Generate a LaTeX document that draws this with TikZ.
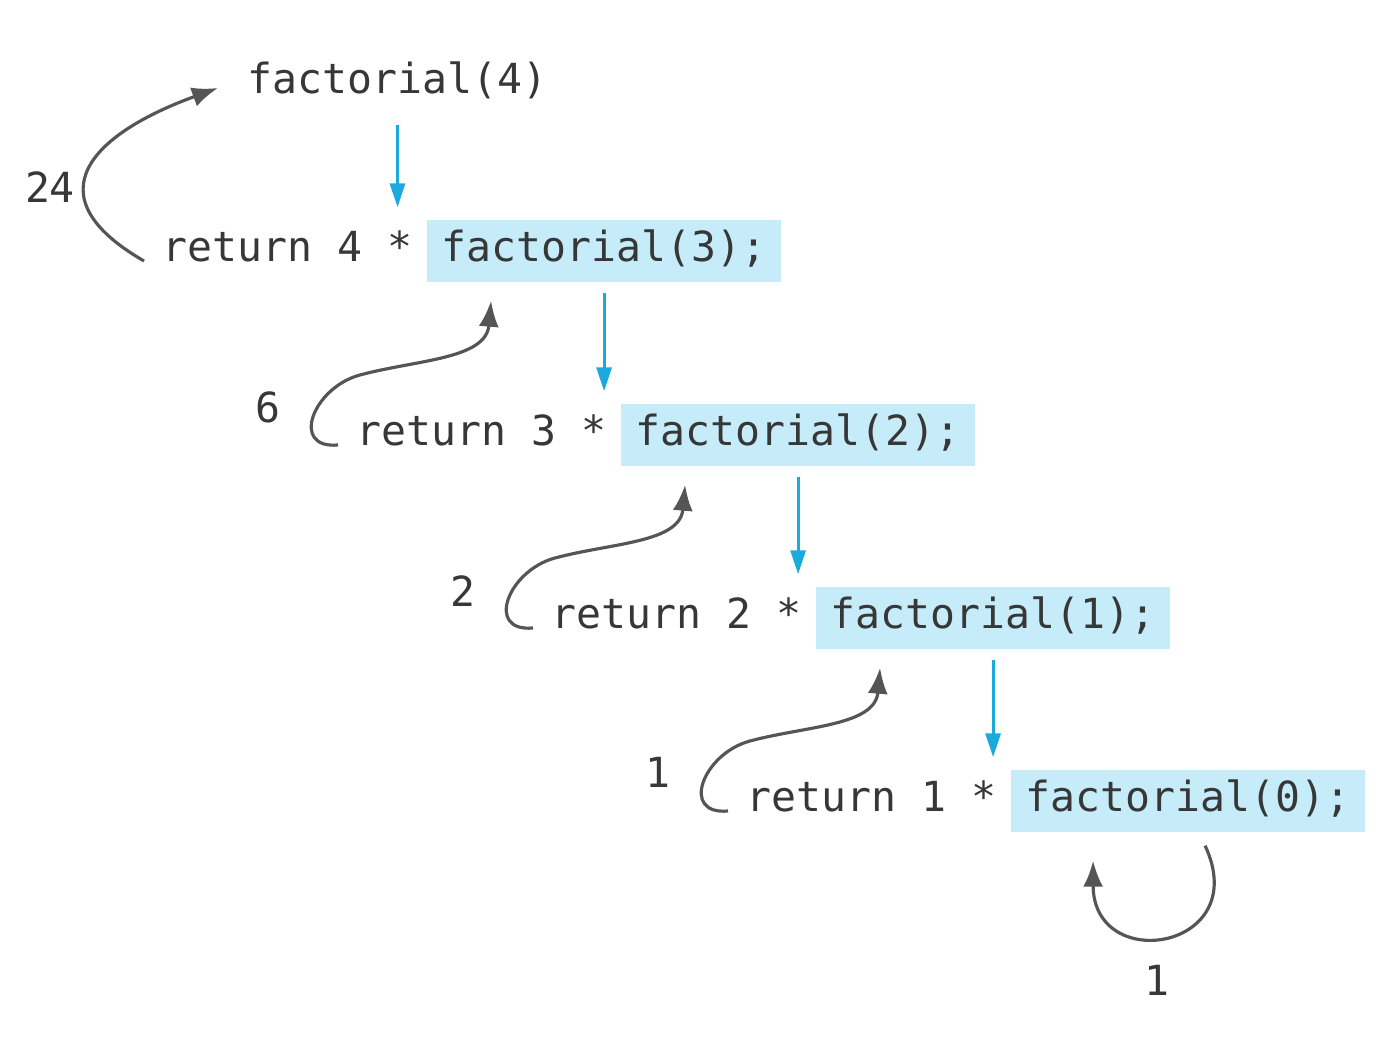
\documentclass[tikz,border=0pt]{standalone}
\usepackage{fontspec}
\newfontfamily\codefont{DejaVu Sans Mono}
\usepackage{tikz}
\usetikzlibrary{positioning,arrows.meta}
\definecolor{codegray}{RGB}{55,55,55}
\definecolor{hilite}{RGB}{198,236,250}
\definecolor{callblue}{RGB}{28,170,222}
\definecolor{retgray}{RGB}{85,85,85}
\tikzset{
  code/.style={font=\codefont\fontsize{11.8}{14}\selectfont,text=codegray,
    inner xsep=0pt,inner ysep=0.1cm,text height=0.32cm,text depth=0.1cm},
  callbox/.style={code,fill=hilite,inner xsep=0.15cm},          % highlighted call
  callarr/.style={-{Triangle[length=2.4mm,width=1.5mm]},line width=0.9pt,draw=callblue,
    shorten <=0.1cm,shorten >=0.12cm},                           % call goes down
  retarr/.style={-{Latex[length=2.6mm,width=2mm]},line width=0.9pt,draw=retgray}, % value comes back
}
\begin{document}
\begin{tikzpicture}
  \useasboundingbox (0,0) rectangle (13.86,10.43);
  \node[code,anchor=west] (fact4) at (2.47,9.60) {factorial(4)};
  \node[code,anchor=west] (ret4) at (1.62,7.92) {return 4 *};
  \node[callbox,right=0.13cm of ret4] (fact3) {factorial(3);};
  \node[code,anchor=west] (ret3) at (3.56,6.08) {return 3 *};
  \node[callbox,right=0.13cm of ret3] (fact2) {factorial(2);};
  \node[code,anchor=west] (ret2) at (5.51,4.25) {return 2 *};
  \node[callbox,right=0.13cm of ret2] (fact1) {factorial(1);};
  \node[code,anchor=west] (ret1) at (7.46,2.42) {return 1 *};
  \node[callbox,right=0.13cm of ret1] (fact0) {factorial(0);};
  \foreach \n in {4,3,2,1}{\draw[callarr] (fact\n.south) -- (fact\n.south |- ret\n.north);}
  % returned values
  \draw[retarr] ([shift={(-0.18,-0.1)}]ret4.west) to[out=150,in=200,looseness=1.8]
    ([shift={(-0.29,-0.05)}]fact4.west);
  \foreach \n in {3,2,1}{
    \draw[retarr] ([shift={(-0.18,-0.1)}]ret\n.west) to[out=185,in=195,looseness=1.7] ++(0.22,0.7)
      to[out=15,in=265] ([shift={(0.65,-0.18)}]fact\n.south west);}
  \draw[retarr] ([shift={(1.95,-0.13)}]fact0.south west) to[out=-65,in=-90,looseness=2.6]
    ([shift={(0.83,-0.28)}]fact0.south west);
  \node[code] (v24) at (0.50,8.51) {24};
  \node[code] (v6) at (2.68,6.31) {6};
  \node[code] (v2) at (4.63,4.47) {2};
  \node[code] (v1) at (6.58,2.66) {1};
  \node[code] (v0) at (11.57,0.58) {1};
\end{tikzpicture}
\end{document}
